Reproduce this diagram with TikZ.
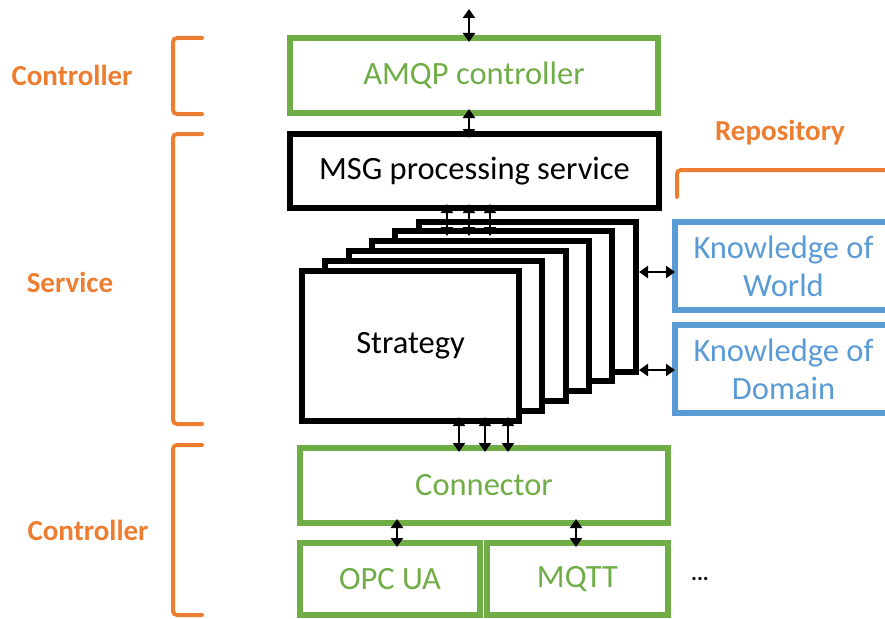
\documentclass[tikz,border=0pt]{standalone}
\usepackage{fontspec}
\setmainfont{Carlito}
\usetikzlibrary{arrows.meta}
\definecolor{oorange}{HTML}{ED7D31}
\definecolor{ogreen}{HTML}{70AD47}
\definecolor{oblue}{HTML}{5B9BD5}
\begin{document}
\begin{tikzpicture}[x=1pt,y=-1pt,
  every node/.style={outer sep=0pt},
  gbox/.style={draw=ogreen,line width=6pt,text=ogreen,font=\fontsize{32.5}{36}\selectfont,inner sep=0pt},
  kbox/.style={draw=oblue,line width=6pt,text=oblue,font=\fontsize{32.5}{38}\selectfont,inner sep=0pt,align=center,minimum width=217pt,minimum height=88pt},
  bbox/.style={draw=black,line width=6pt,fill=white,inner sep=0pt},
  lbl/.style={text=oorange,font=\bfseries\fontsize{29}{34}\selectfont},
  brk/.style={draw=oorange,line width=4pt,rounded corners=4pt,line cap=round},
  tip/.tip={Triangle[length=9pt,width=12pt]},
  arr/.style={draw=black,line width=2.8pt,tip-tip,shorten <=-4pt,shorten >=-4pt},
  harr/.style={draw=black,line width=2.8pt,tip-tip,shorten <=3.5pt,shorten >=0pt}
]
\useasboundingbox (0,0) rectangle (885,618);
% left labels and brackets
\node[lbl] (lc1) at (72,75) {Controller};
\node[lbl] (ls) at (70,282) {Service};
\node[lbl] (lc2) at (88,530) {Controller};
\draw[brk] (202,38) -- (173,38) -- (173,114) -- (202,114);
\draw[brk] (202,134) -- (173,134) -- (173,424) -- (202,424);
\draw[brk] (202,445) -- (173,445) -- (173,615) -- (202,615);
% repository
\node[lbl] (rep) at (780,133) {Repository};
\draw[brk] (677,197) -- (677,170) -- (900,170);
% top boxes
\node[gbox,minimum width=368pt,minimum height=75pt] (amqp) at (474,75.5) {AMQP controller};
\node[bbox,minimum width=369pt,minimum height=74pt,font=\fontsize{32.5}{36}\selectfont] (msg) at (474.5,171) {MSG processing service};
\coordinate (top) at (469,13);
\draw[arr] (top) -- (amqp.north -| top);
\draw[arr] (amqp.south -| top) -- (msg.north -| top);
% strategy stack
\foreach \i in {5,4,3,2,1} {
  \node[bbox,minimum width=217pt,minimum height=150pt] (s\i) at ({410.5+23.3*\i},{346-9.9*\i}) {};
}
\node[bbox,minimum width=217pt,minimum height=150pt,font=\fontsize{32.5}{36}\selectfont] (s0) at (410.5,346) {Strategy};
% MSG to stack arrows
\foreach \x in {447,469,490} {
  \coordinate (m\x) at (\x,232);
  \draw[arr] (msg.south -| m\x) -- (m\x);
}
% knowledge
\node[kbox] (kw) at (783.5,266) {Knowledge of\\World};
\node[kbox] (kd) at (783.5,369) {Knowledge of\\Domain};
\coordinate (aw) at (0,272);
\coordinate (ad) at (0,370);
\draw[harr] (s5.east |- aw) -- (kw.west |- aw);
\draw[harr] (s5.east |- ad) -- (kd.west |- ad);
% connector
\node[gbox,minimum width=368pt,minimum height=75pt] (conn) at (484,485.5) {Connector};
\foreach \x in {459,485,508} {
  \coordinate (c\x) at (\x,0);
  \draw[arr] (s0.south -| c\x) -- (conn.north -| c\x);
}
\node[gbox,minimum width=180pt,minimum height=72pt] (opc) at (390,579) {OPC UA};
\node[gbox,minimum width=181pt,minimum height=72pt] (mqtt) at (577.5,579) {MQTT};
\coordinate (o1) at (397,0);
\coordinate (o2) at (576,0);
\draw[arr] (conn.south -| o1) -- (opc.north -| o1);
\draw[arr] (conn.south -| o2) -- (mqtt.north -| o2);
\node[font=\bfseries\fontsize{22}{26}\selectfont] (dots) at (700,579) {...};
\end{tikzpicture}
\end{document}
